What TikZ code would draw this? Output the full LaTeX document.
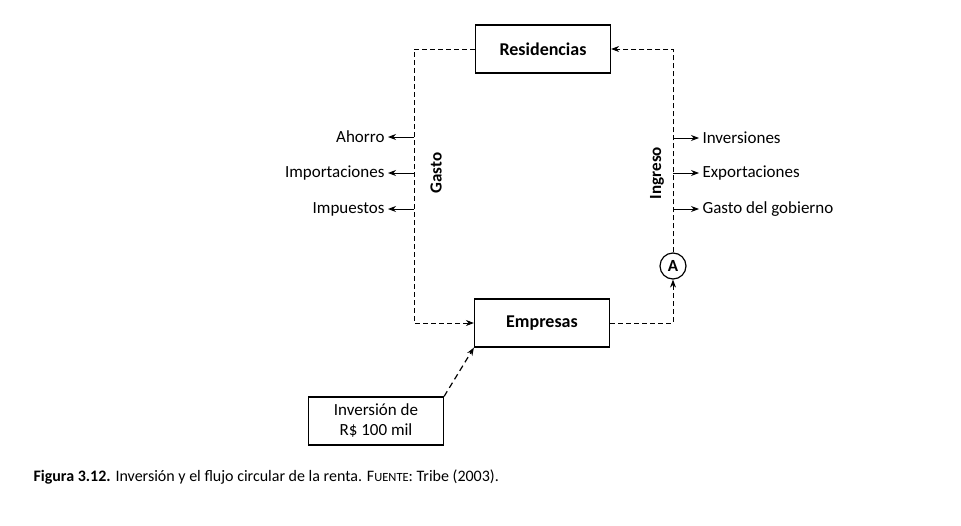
\documentclass[tikz,border=0pt]{standalone}
\usepackage{fontspec}
\setmainfont{Carlito}
\usetikzlibrary{positioning}
\usetikzlibrary{arrows.meta}
\tikzset{
  box/.style={draw, line width=1.2pt, minimum width=135pt, minimum height=48pt, font=\fontsize{18}{21}\selectfont\bfseries},
  flow/.style={line width=0.9pt, dash pattern=on 5pt off 3pt, -{Stealth[length=8pt,width=6pt]}},
  leak/.style={line width=0.9pt, -{Stealth[length=8pt,width=6pt]}},
  lbl/.style={font=\fontsize{17}{20}\selectfont},
}

\begin{document}
\begin{tikzpicture}[x=1pt,y=-1pt]
  \useasboundingbox (0,0) rectangle (961,525);

  \node [box] (res) at (543,49) {Residencias};
  \node [box] (emp) at (542,323) {Empresas};
  \node [box, align=center, font=\fontsize{17}{20}\selectfont] (inv) at (376,421) {Inversión de\\R\$ 100 mil};
  \node [draw, circle, line width=1.2pt, minimum size=26pt, inner sep=0pt, font=\fontsize{17}{20}\selectfont\bfseries] (A) at (673,266) {A};

  % Gasto:
  \coordinate (gtop) at (414,49);
  \coordinate (gbot) at (414,323);
  \draw [flow] (res.west) -- (gtop) -- (gbot) -- (emp.west);
  \node [lbl, rotate=90] (gasto) at (436,173) {\textbf{Gasto}};

  % Ingreso:
  \coordinate (ibot) at (673,323);
  \coordinate (itop) at (673,49);
  \draw [flow] (emp.east) -- (ibot) -- (A.south);
  \draw [flow] (A.north) -- (itop) -- (res.east);
  \node [lbl, rotate=90] (ingreso) at (657,173) {\textbf{Ingreso}};

  \draw [flow, line width=1.2pt, dash pattern=on 6pt off 4pt] (inv.north east) -- (emp.south west);

  % leakages and injections
  \foreach \name/\y/\txt in {ahorro/137/Ahorro, importaciones/173/Importaciones, impuestos/209/Impuestos} {
    \coordinate (\name-s) at (414,\y);
    \node [lbl, anchor=east] (\name) at (388,\y) {\txt};
    \draw [leak] (\name-s) -- (\name.east);
  }
  \foreach \name/\y/\txt in {inversiones/138/Inversiones, exportaciones/173/Exportaciones, gobierno/209/Gasto del gobierno} {
    \coordinate (\name-s) at (673,\y);
    \node [lbl, anchor=west] (\name) at (699,\y) {\txt};
    \draw [leak] (\name-s) -- (\name.west);
  }

  \node [anchor=west, font=\fontsize{16}{19}\selectfont] (caption) at (30,477)
    {\textbf{Figura 3.12.} Inversión y el flujo circular de la renta. F{\fontsize{12.5}{15}\selectfont UENTE}: Tribe (2003).};
\end{tikzpicture}
\end{document}
